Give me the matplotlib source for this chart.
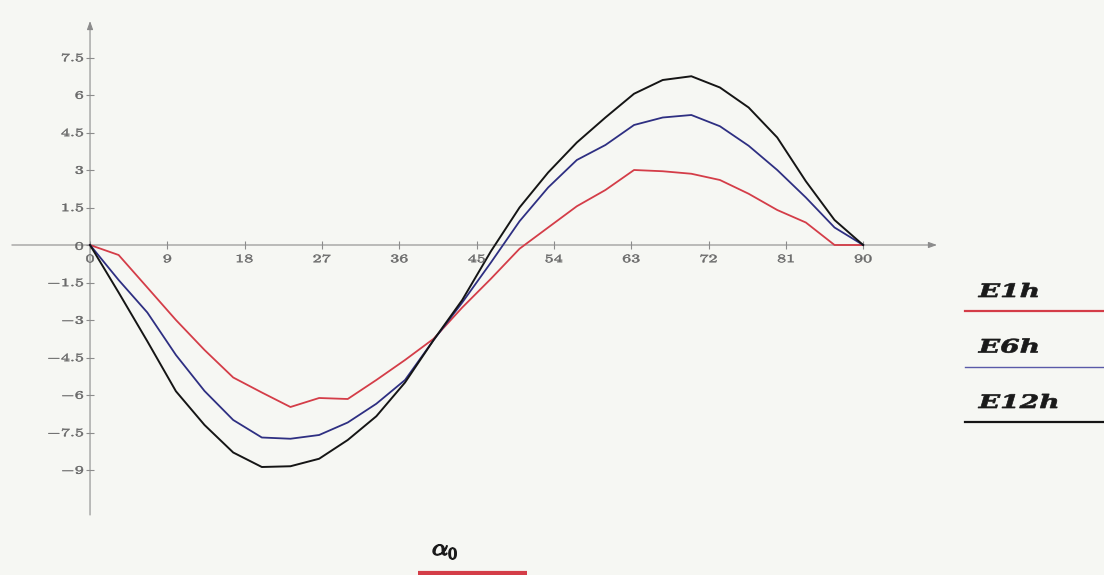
import matplotlib
matplotlib.use("Agg")
import matplotlib.pyplot as plt
from matplotlib.textpath import TextPath
from matplotlib.patches import PathPatch
from matplotlib.font_manager import FontProperties
from matplotlib.transforms import Affine2D
from matplotlib.lines import Line2D

plt.rcParams["mathtext.fontset"] = "cm"

# ---- data -------------------------------------------------------------
angle = [0, 3.33, 6.67, 10, 13.33, 16.67, 20, 23.33, 26.67, 30,
         33.33, 36.67, 40, 43.33, 46.67, 50, 53.33, 56.67, 60, 63.33,
         66.67, 70, 73.33, 76.67, 80, 83.33, 86.67, 90]

e1h = [0, -0.4, -1.7, -3.0, -4.2, -5.3, -5.9, -6.48, -6.12, -6.16,
       -5.4, -4.6, -3.75, -2.5, -1.35, -0.15, 0.7, 1.55, 2.2, 3.0,
       2.95, 2.85, 2.6, 2.05, 1.4, 0.9, 0.0, 0.0]

e6h = [0, -1.4, -2.7, -4.4, -5.84, -7.0, -7.7, -7.75, -7.6, -7.1,
       -6.35, -5.4, -3.8, -2.3, -0.7, 0.95, 2.3, 3.4, 4.0, 4.8,
       5.1, 5.2, 4.75, 3.97, 3.0, 1.9, 0.7, 0]

e12h = [0, -1.9, -3.85, -5.85, -7.2, -8.3, -8.88, -8.85, -8.55, -7.8,
        -6.85, -5.5, -3.8, -2.2, -0.25, 1.5, 2.9, 4.1, 5.1, 6.05,
        6.6, 6.75, 6.3, 5.5, 4.3, 2.55, 1.0, 0]

x_ticks = [0, 9, 18, 27, 36, 45, 54, 63, 72, 81, 90]
y_ticks = [7.5, 6, 4.5, 3, 1.5, 0, -1.5, -3, -4.5, -6, -7.5, -9]
series_names = ["E1h", "E6h", "E12h"]

# ---- styles -----------------------------------------------------------
RED = "#d43d48"
BLUE = "#2e2f82"
BLACK = "#151515"
AXIS_GREY = "#8c8c8c"
LABEL_GREY = "#6a6a6a"
BG = "#f6f7f3"

W, H = 1104, 575
fig = plt.figure(figsize=(W / 100, H / 100), dpi=100, facecolor=BG)
ax = fig.add_axes([0, 0, 1, 1])
ax.set_facecolor(BG)
ax.set_xlim(-10.48, 118.04)
ax.set_ylim(-13.2, 9.8)
ax.set_autoscale_on(False)
ax.axis("off")

XSTRETCH = 1.6


def put_text(s, disp_xy, size, color, ha="left", va="baseline",
             sx=XSTRETCH, prop=None, stroke=0.0, zorder=6):
    """Draw text as a path in pixel space, widened horizontally by sx."""
    tp = TextPath((0, 0), s, size=size, prop=prop)
    ext = tp.get_extents()
    ox = {"left": ext.x0, "center": (ext.x0 + ext.x1) / 2, "right": ext.x1}[ha]
    oy = {"baseline": 0, "center": (ext.y0 + ext.y1) / 2,
          "top": ext.y1, "bottom": ext.y0}[va]
    tr = Affine2D().translate(-ox, -oy).scale(sx, 1).translate(*disp_xy)
    patch = PathPatch(tp, transform=tr, facecolor=color,
                      edgecolor=color if stroke else "none", lw=stroke,
                      zorder=zorder)
    fig.add_artist(patch)


def px(x, y):
    """Pixel position (origin bottom-left) of a data point."""
    return ax.transData.transform((x, y))


# ---- axes with arrow heads -------------------------------------------
ax.annotate("", xy=(98.6, 0), xytext=(-9.1, 0),
            arrowprops=dict(arrowstyle="-|>,head_length=0.5,head_width=0.18",
                            color=AXIS_GREY, lw=0.8, shrinkA=0, shrinkB=0))
ax.annotate("", xy=(0, 8.96), xytext=(0, -10.8),
            arrowprops=dict(arrowstyle="-|>,head_length=0.5,head_width=0.18",
                            color=AXIS_GREY, lw=0.8, shrinkA=0, shrinkB=0))

# tick crosses
ax.plot(x_ticks, [0] * len(x_ticks), ls="none", marker="|", ms=6,
        mew=0.8, color=AXIS_GREY)
ax.plot([0] * len(y_ticks), y_ticks, ls="none", marker="_", ms=6,
        mew=0.8, color=AXIS_GREY)

# tick labels
for t in x_ticks:
    x0, y0 = px(t, 0)
    put_text(f"${t}$", (x0, y0 - 13.5), 11.3, LABEL_GREY,
             ha="center", va="center", stroke=0.35)
for t in y_ticks:
    x0, y0 = px(0, t)
    put_text(f"${t:g}$", (x0 - 7, y0 - (1 if t == 0 else 0)), 11.3,
             LABEL_GREY, ha="right", va="center", stroke=0.35)

# ---- curves -----------------------------------------------------------
ax.plot(angle, e1h, color=RED, lw=1.3, solid_joinstyle="round", zorder=4)
ax.plot(angle, e6h, color=BLUE, lw=1.3, solid_joinstyle="round", zorder=4)
ax.plot(angle, e12h, color=BLACK, lw=1.4, solid_joinstyle="round", zorder=4)

# ---- side legend ------------------------------------------------------
leg_font = FontProperties(family="DejaVu Serif", weight="bold", style="italic")
leg_colors = [RED, "#5a5aa8", BLACK]
leg_widths = [1.6, 1.0, 1.6]
for i, (name, col, lw) in enumerate(zip(series_names, leg_colors, leg_widths)):
    base = 297 + 55.5 * i
    put_text(name, (978, H - base), 18.5, "#1a1a1a", sx=1.52,
             prop=leg_font, stroke=0.5)
    ly = 1 - (base + 14) / H
    fig.add_artist(Line2D([965 / W, 1.0], [ly, ly], color=col, lw=lw))

# ---- x variable label -------------------------------------------------
put_text(r"$\alpha_0$", (433, H - 555), 23, "#1a1a1a", sx=1.1, stroke=1.0)
fig.add_artist(Line2D([418 / W, 527 / W], [1 - 573 / H] * 2,
                      color=RED, lw=3.0, solid_capstyle="butt"))

fig.savefig("out.png", dpi=100, facecolor=BG)
